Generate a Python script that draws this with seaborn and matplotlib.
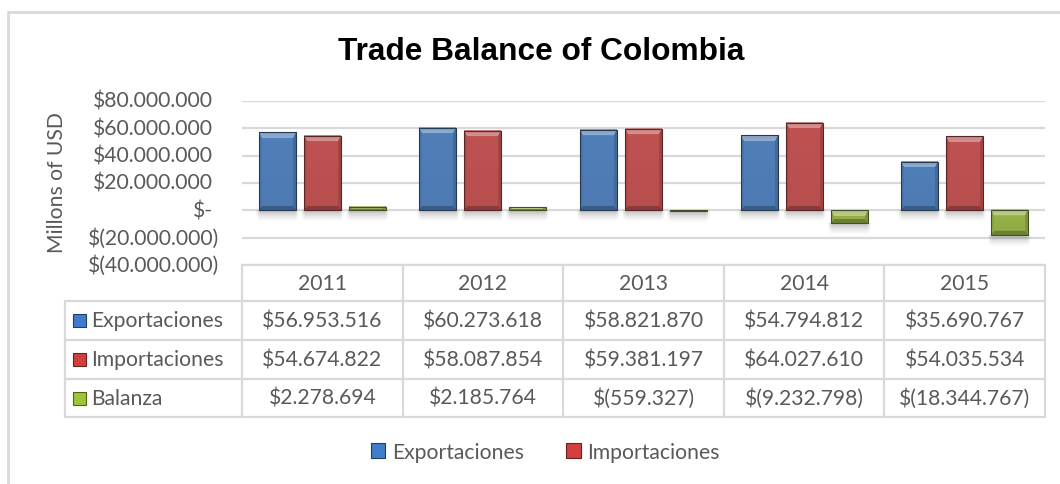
import numpy as np
import pandas as pd
import matplotlib
matplotlib.use("Agg")
import matplotlib.pyplot as plt
import seaborn as sns
from matplotlib.colors import to_rgb
from matplotlib.patches import Rectangle, Patch
from matplotlib.lines import Line2D

# ---- data -------------------------------------------------------------
years = ["2011", "2012", "2013", "2014", "2015"]
series = ["Exportaciones", "Importaciones", "Balanza"]
exportaciones = [56953516, 60273618, 58821870, 54794812, 35690767]
importaciones = [54674822, 58087854, 59381197, 64027610, 54035534]
balanza = [2278694, 2185764, -559327, -9232798, -18344767]
y_ticks = [-40000000, -20000000, 0, 20000000, 40000000, 60000000, 80000000]
legend_series = ["Exportaciones", "Importaciones"]

colors = ["#3f7dca", "#d23f3f", "#a0c437"]
grid_color = "#d9d9d9"
text_color = "#595959"
FS = 15.2

sns.set_theme(style="white")
plt.rcParams["font.family"] = ["Lato", "DejaVu Sans"]

W, H = 1060, 485
fig = plt.figure(figsize=(W / 100, H / 100), dpi=100)


def fx(px):
    return px / W


def fy(py):
    return 1 - py / H


def money(v):
    if v == 0:
        return "$-"
    s = f"{abs(v):,.0f}".replace(",", ".")
    return f"$({s})" if v < 0 else f"${s}"


# ---- bar chart ----------------------------------------------------------
ax = fig.add_axes([fx(242), fy(266), fx(1045) - fx(242), fy(102) - fy(266)])
df = pd.DataFrame({
    "year": years * 3,
    "series": np.repeat(series, len(years)),
    "value": exportaciones + importaciones + balanza,
})
sns.barplot(data=df, x="year", y="value", hue="series", order=years,
            hue_order=series, palette=colors, width=0.84, gap=0.18,
            errorbar=None, legend=False, ax=ax, zorder=3)

ax.set_xlim(-0.5, len(years) - 0.5)
ax.set_ylim(y_ticks[0], y_ticks[-1])
ax.set_yticks(y_ticks)
ax.yaxis.grid(True, color=grid_color, lw=1.6)
ax.xaxis.grid(False)
ax.set_axisbelow(True)
for s in ax.spines.values():
    s.set_visible(False)
ax.tick_params(length=0, labelbottom=False, labelleft=False)
ax.set_xlabel("")
ax.set_ylabel("")
ax.patch.set_alpha(0)

# y tick labels in accounting style (closing parenthesis hangs right)
for v in y_ticks:
    xa = (219 - 242) / (1045 - 242) if v < 0 else (213 - 242) / (1045 - 242)
    ax.text(xa, v, money(v), transform=ax.get_yaxis_transform(),
            ha="right", va="center", fontsize=FS, color=text_color)


def bevel(color, wpx, hpx, bt=6.0, bs=3.0):
    c = np.array(to_rgb(color))
    yy, xx = np.mgrid[0:hpx, 0:wpx] + 0.5
    dt, db, dl, dr = yy, hpx - yy, xx, wpx - xx
    bt = min(bt, hpx / 2)
    bs = min(bs, wpx / 2)
    side = np.minimum(dl, dr) * (bt / bs)
    shade = 1.0 - 0.04 * (yy / max(hpx, 1))
    img = c[None, None, :] * shade[..., None]
    top = (dt <= bt) & (dt <= side)
    bot = (db <= bt * 0.6) & (db <= side * 0.6) & ~top
    left = (dl <= bs) & ~top & ~bot
    right = (dr <= bs) & ~top & ~bot & ~left
    img[top] = (c + (1 - c) * 0.36)[None, :] * (0.93 + 0.07 * dt[top] / max(bt, 1))[:, None]
    img[bot] = c * 0.72
    img[left] = c * 0.93
    img[right] = c * 0.84
    return np.clip(img, 0, 1)


def shadow(wpx, hpx=12):
    yy, xx = np.mgrid[0:hpx, 0:wpx] + 0.5
    a = 0.42 * (1 - yy / hpx) ** 1.4
    edge = np.clip(np.minimum(xx, wpx - xx) / 4.0, 0, 1)
    img = np.zeros((hpx, wpx, 4))
    img[..., :3] = 0.35
    img[..., 3] = a * edge
    return img


px_per_val = (ax.transData.transform((0, 1e6))[1] - ax.transData.transform((0, 0))[1]) / 1e6
for p in list(ax.patches):
    x0, y0 = p.get_x(), p.get_y()
    w, h = p.get_width(), p.get_height()
    (a0, b0), (a1, b1) = ax.transData.transform([(x0, y0), (x0 + w, y0 + h)])
    wpx = max(int(round(abs(a1 - a0))), 1)
    hpx = max(int(round(abs(b1 - b0))), 1)
    fc = p.get_facecolor()
    ylo, yhi = min(y0, y0 + h), max(y0, y0 + h)
    ax.imshow(bevel(fc, wpx, hpx), extent=(x0, x0 + w, ylo, yhi),
              origin="upper", aspect="auto", interpolation="bilinear", zorder=3.5)
    sh = 12
    ax.imshow(shadow(wpx + 6, sh), extent=(x0 - 3 / (wpx / w), x0 + w + 3 / (wpx / w),
                                           ylo - sh / px_per_val, ylo),
              origin="upper", aspect="auto", interpolation="bilinear", zorder=2.5)
    dark = np.array(to_rgb(fc)) * 0.45
    p.set_facecolor("none")
    p.set_edgecolor(dark)
    p.set_linewidth(0.8)
    p.set_zorder(4)

ax.set_xlim(-0.5, len(years) - 0.5)
ax.set_ylim(y_ticks[0], y_ticks[-1])
ax.set_aspect("auto")

# ---- overlay in pixel coordinates: frame, title, table, legend ----------
ov = fig.add_axes([0, 0, 1, 1], zorder=5)
ov.set_xlim(0, W)
ov.set_ylim(H, 0)
ov.axis("off")

ov.add_line(Line2D([8, 8], [12.5, H + 5], color=grid_color, lw=2))
ov.add_line(Line2D([8, W + 5], [12.5, 12.5], color=grid_color, lw=2))

ov.text(541, 52, "Trade Balance of Colombia", ha="center", va="center",
        fontsize=22.8, fontweight="bold", color="black",
        family=["Liberation Sans", "DejaVu Sans"])

ov.text(57, 183, "Millons of USD", rotation=90, ha="center", va="center",
        fontsize=FS, color=text_color)

# data table under the plot
col_edges = [ax.transData.transform((i - 0.5, 0))[0] for i in range(len(years) + 1)]
row_edges = [266, 302, 341, 380, 418]
label_left = 65
lkw = dict(color=grid_color, lw=1.6)
ov.add_line(Line2D([col_edges[0], col_edges[-1]], [row_edges[0]] * 2, **lkw))
for ry in row_edges[1:]:
    ov.add_line(Line2D([label_left, col_edges[-1]], [ry, ry], **lkw))
ov.add_line(Line2D([label_left, label_left], [row_edges[1], row_edges[-1]], **lkw))
for cx in col_edges:
    ov.add_line(Line2D([cx, cx], [row_edges[0], row_edges[-1]], **lkw))

for j, yr in enumerate(years):
    cxm = (col_edges[j] + col_edges[j + 1]) / 2
    ov.text(cxm, (row_edges[0] + row_edges[1]) / 2, yr, ha="center", va="center",
            fontsize=FS, color=text_color)

table_rows = [exportaciones, importaciones, balanza]
for i, (name, vals, col) in enumerate(zip(series, table_rows, colors)):
    yc = (row_edges[i + 1] + row_edges[i + 2]) / 2
    ov.add_patch(Rectangle((73, yc - 6.5), 13, 13, fc=col,
                           ec=np.array(to_rgb(col)) * 0.5, lw=0.8))
    ov.text(91, yc, name, ha="left", va="center", fontsize=FS, color=text_color)
    for j, v in enumerate(vals):
        cxm = (col_edges[j] + col_edges[j + 1]) / 2
        t = ov.text(cxm, yc, money(v), ha="center", va="center", fontsize=FS,
                    color=text_color, clip_on=True)
        t.set_clip_path(Rectangle((col_edges[j] + 1, row_edges[i + 1]),
                                  col_edges[j + 1] - col_edges[j] - 7,
                                  row_edges[i + 2] - row_edges[i + 1],
                                  transform=ov.transData))

handles = [Patch(fc=colors[k], ec=np.array(to_rgb(colors[k])) * 0.5, lw=0.8)
           for k in range(len(legend_series))]
fig.legend(handles=handles, labels=legend_series, loc="center",
           bbox_to_anchor=(fx(545), fy(453)), ncol=2, frameon=False,
           handlelength=0.7, handleheight=0.7, handletextpad=0.3,
           columnspacing=2.0, fontsize=FS, labelcolor=text_color)

fig.savefig("out.png", dpi=100)
